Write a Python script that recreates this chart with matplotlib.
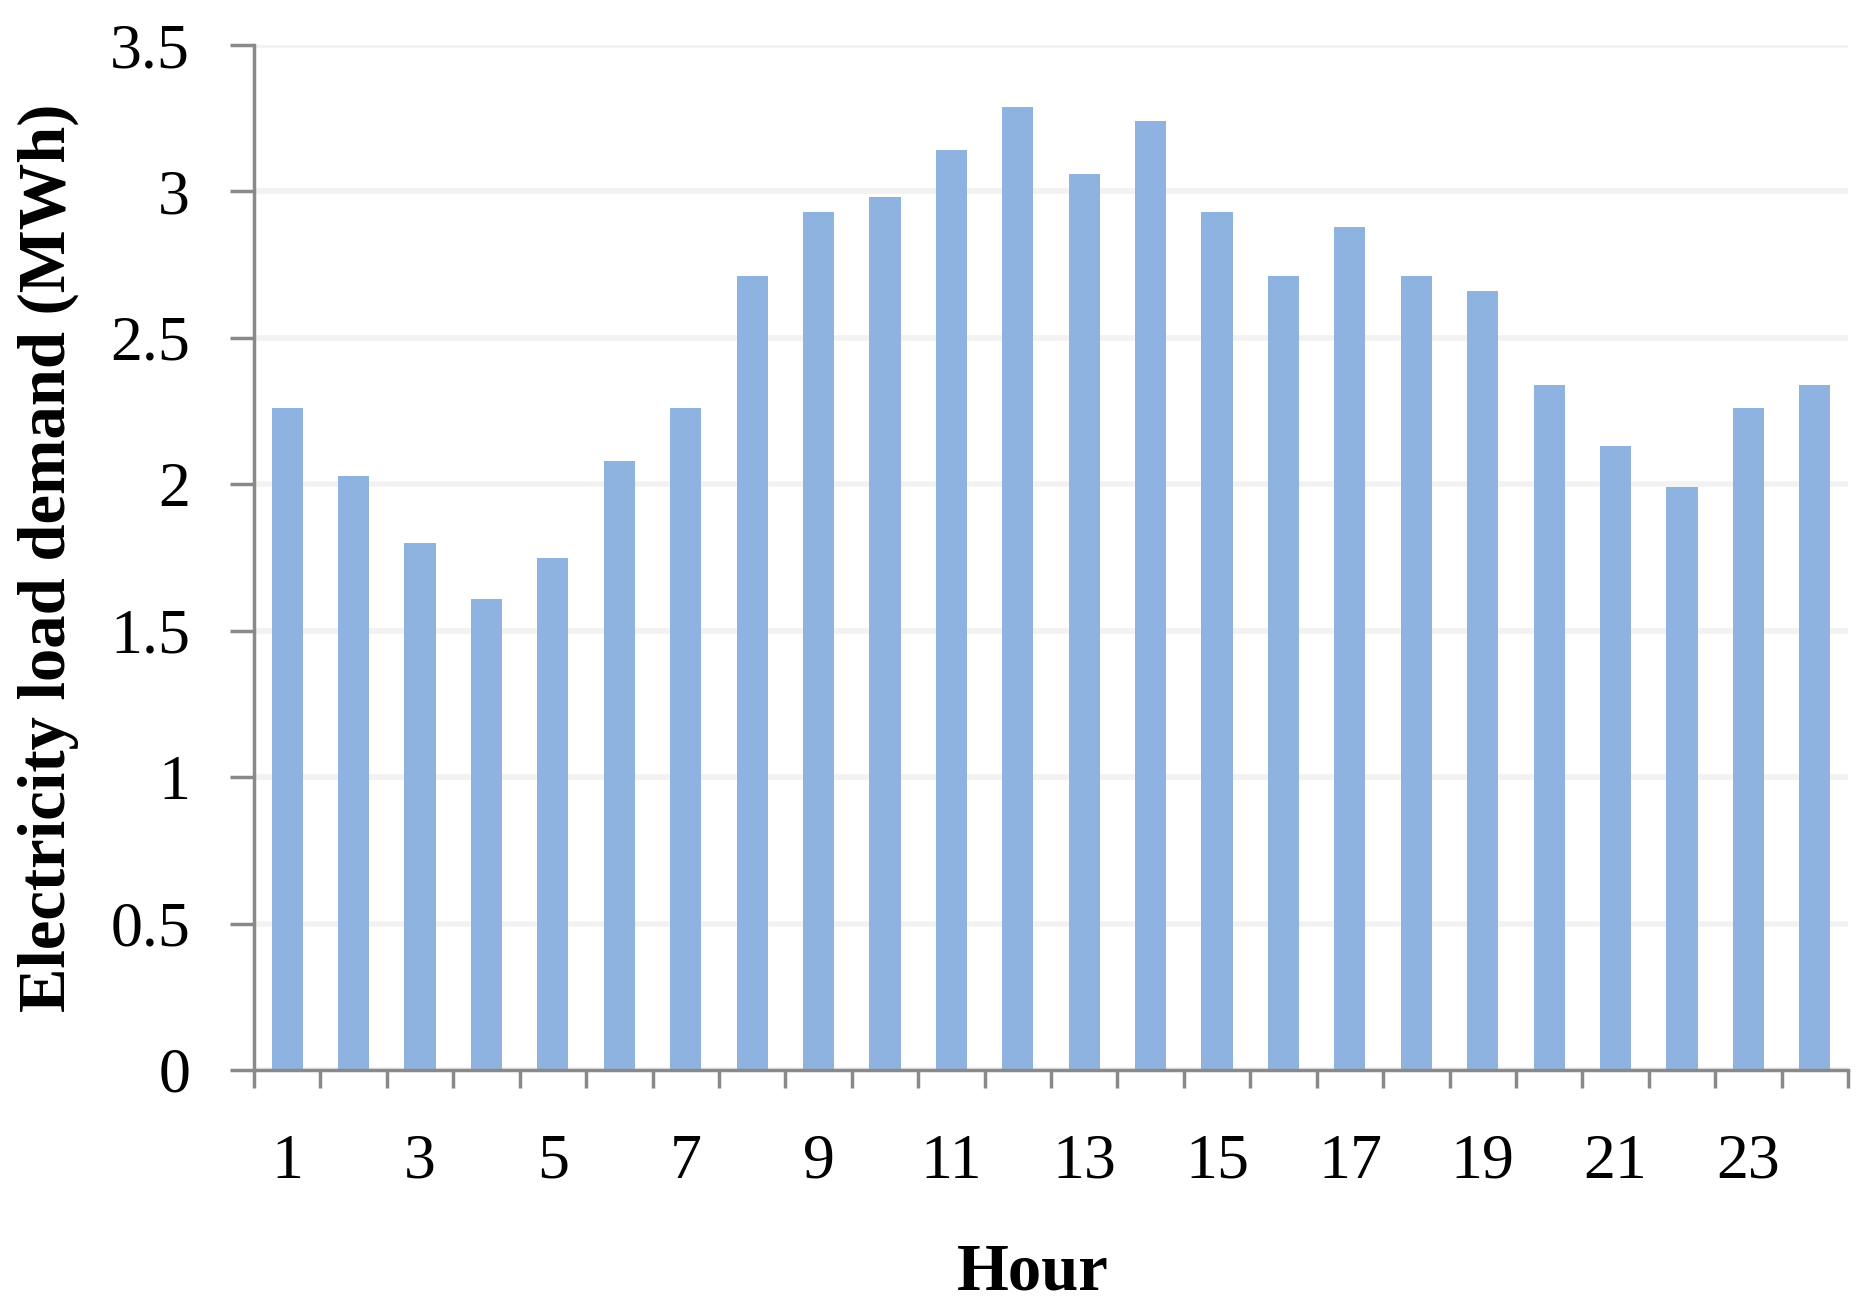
import numpy as np
import matplotlib
matplotlib.use("Agg")
import matplotlib.pyplot as plt

# valori (MWh per ora)
hours = list(range(1, 25))
load_mwh = [2.26, 2.03, 1.80, 1.61, 1.75, 2.08, 2.26, 2.71, 2.93, 2.98, 3.14, 3.29,
            3.06, 3.24, 2.93, 2.71, 2.88, 2.71, 2.66, 2.34, 2.13, 1.99, 2.26, 2.34]
y_ticks = [0, 0.5, 1, 1.5, 2, 2.5, 3, 3.5]
y_tick_labels = ["0", "0.5", "1", "1.5", "2", "2.5", "3", "3.5"]
x_tick_hours = list(range(1, 25, 2))

BAR_COLOR = "#8FB3E0"
AXIS_COLOR = "#898989"
GRID_COLOR = "#F2F2F2"

plt.rcParams["font.family"] = ["Liberation Serif", "DejaVu Serif"]

fig = plt.figure(figsize=(18.69, 13.07), dpi=100)
ax = fig.add_axes([254 / 1869, 1 - 1070 / 1307, 1594 / 1869, 1025 / 1307])

ax.bar(hours, load_mwh, width=0.47, color=BAR_COLOR, zorder=2)

ax.set_xlim(0.5, 24.5)
ax.set_ylim(0, 3.5)

# griglia orizzontale
ax.set_yticks(y_ticks)
ax.set_yticklabels(y_tick_labels, fontsize=46)
ax.yaxis.grid(True, color=GRID_COLOR, lw=4, zorder=0)
ax.set_axisbelow(True)

# etichette x sulle ore dispari, tacche ai bordi delle categorie
ax.set_xticks(x_tick_hours)
ax.set_xticklabels([str(h) for h in x_tick_hours], fontsize=46)
ax.set_xticks(np.arange(0.5, 25.0, 1.0), minor=True)
ax.tick_params(axis="x", which="major", length=0, pad=46)
ax.tick_params(axis="x", which="minor", length=13, width=2.5, color=AXIS_COLOR)
ax.tick_params(axis="y", length=17, width=2.5, color=AXIS_COLOR, pad=29)

for side in ("top", "right"):
    ax.spines[side].set_visible(False)
for side in ("left", "bottom"):
    ax.spines[side].set_color(AXIS_COLOR)
    ax.spines[side].set_linewidth(2.5)

ax.set_xlabel("Hour", fontsize=48, fontweight="bold")
ax.xaxis.set_label_coords(0.4887, -0.198)
ax.xaxis.label.set_va("center")
ax.set_ylabel("Electricity load demand (MWh)", fontsize=48, fontweight="bold")
ax.yaxis.set_label_coords(-0.129, 0.5)
ax.yaxis.label.set_va("center")

fig.savefig("out.png", dpi=100)
plt.close(fig)
